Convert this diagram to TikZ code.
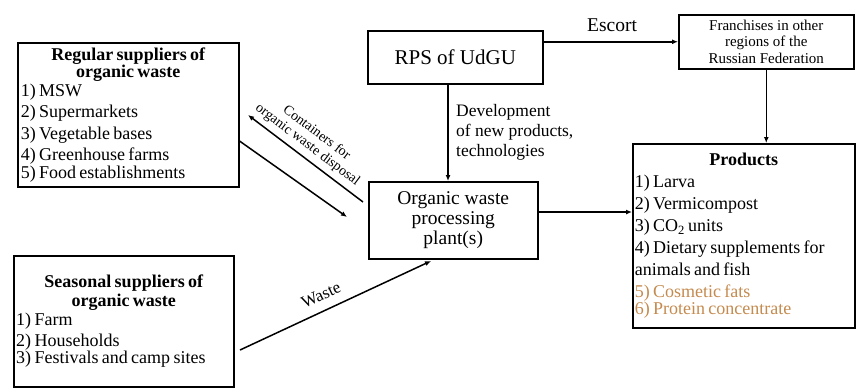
\documentclass[tikz,border=0pt]{standalone}
\usepackage{fontspec}
\setmainfont{Liberation Serif}
\usetikzlibrary{arrows.meta}

\definecolor{fatcolor}{RGB}{196,138,78}
\newcommand\listsize{\fontsize{18}{21.5}\selectfont}
\newcommand\headsize{\fontsize{18}{17.5}\selectfont\bfseries}

\tikzset{
  box/.style={draw, line width=1.5pt, inner sep=2pt, anchor=north west},
  arr/.style={-{Latex[length=6pt,width=5pt]}, line width=1.5pt},
  lbl/.style={inner sep=0pt, font=\fontsize{17.5}{20}\selectfont},
}

\begin{document}
\begin{tikzpicture}[x=1pt,y=-1pt]
\useasboundingbox (0,0) rectangle (856,389);

% boxes
\node[box, minimum width=221pt, minimum height=144pt, text width=215pt] (reg) at (17,42)
  {{\centering\headsize Regular suppliers of\\organic waste\par}\vspace{-3pt}
   \raggedright\listsize 1) MSW\\2) Supermarkets\\3) Vegetable bases\\4) Greenhouse farms\\5) Food establishments};
\node[box, minimum width=220pt, minimum height=131pt, text width=215pt] (seas) at (13,255)
  {{\centering\fontsize{18}{19}\selectfont\bfseries Seasonal suppliers of\\organic waste\par}\vspace{-3pt}
   \raggedright\listsize 1) Farm\\2) Households\\3) Festivals and camp sites};
\node[box, minimum width=175pt, minimum height=53pt, font=\fontsize{21}{24}\selectfont] (rps) at (367,30) {RPS of UdGU};
\node[box, minimum width=169pt, minimum height=77pt, align=center, font=\fontsize{19.5}{20}\selectfont] (proc) at (368,181)
  {Organic waste\\processing\\plant(s)};
\node[box, minimum width=175pt, minimum height=54pt, align=center, font=\fontsize{15}{16.5}\selectfont] (fran) at (678,14)
  {Franchises in other\\regions of the\\Russian Federation};
\node[box, minimum width=221pt, minimum height=184pt, text width=218pt] (prod) at (632,143)
  {{\centering\fontsize{18}{22}\selectfont\bfseries Products\par}
   \raggedright\fontsize{18}{22}\selectfont 1) Larva\\2) Vermicompost\\3) CO\textsubscript{2} units\\4) Dietary supplements for\\animals and fish\\
   \textcolor{fatcolor}{5) Cosmetic fats}\\\textcolor{fatcolor}{6) Protein concentrate}};

% free ends
\coordinate (d1) at (448,0);
\coordinate (p1) at (0,212);
\coordinate (c1) at (363,202);
\coordinate (c2) at (248,115);
\coordinate (l1) at (0,141);
\coordinate (l2) at (347,217);
\coordinate (w1) at (240,350);
\coordinate (w2) at (431,261);

% connectors
\draw[arr] (rps.east |- fran.west) -- (fran.west);
\draw[arr] (rps.south -| d1) -- (proc.north -| d1);
\draw[arr] (fran.south) -- (prod.north -| fran.south);
\draw[arr] (proc.east |- p1) -- (prod.west |- p1);
\draw[arr] (c1) -- (c2);
\draw[arr] (reg.east |- l1) -- (l2);
\draw[arr] (w1) -- (w2);

% labels
\node[lbl, font=\fontsize{19.5}{20}\selectfont] (esc) at (612,25) {Escort};
\node[lbl, anchor=west, align=left] (dev) at (456,132) {Development\\of new products,\\technologies};
\node[lbl, rotate=-37, align=center, font=\fontsize{14}{15}\selectfont] (cont) at (312,139) {Containers for\\organic waste disposal};
\node[lbl, rotate=25, font=\fontsize{17}{20}\selectfont] (waste) at (321,295) {Waste};
\end{tikzpicture}
\end{document}
